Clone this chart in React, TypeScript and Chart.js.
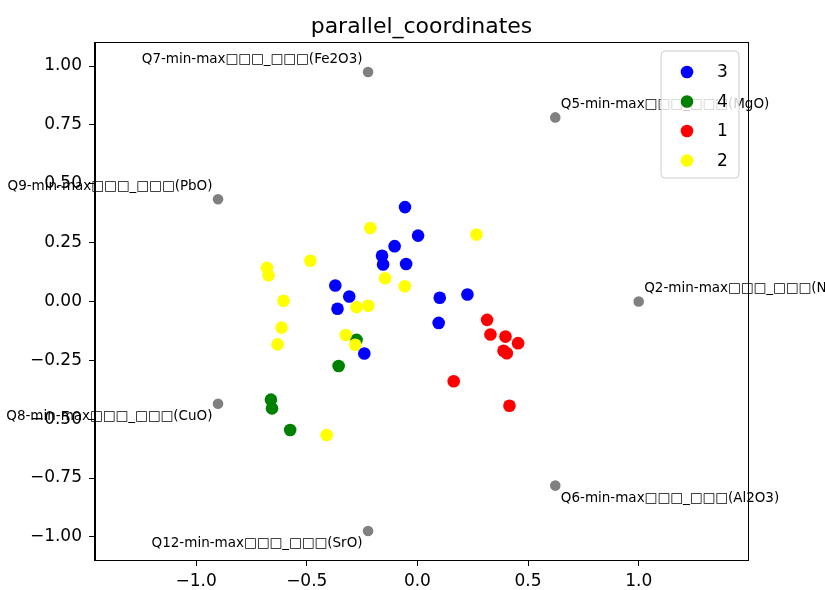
import React, { useEffect, useRef } from "react";
import { Chart, registerables } from "chart.js";

Chart.register(...registerables);

const TITLE = "parallel_coordinates";
const FONT = "'DejaVu Sans', 'Liberation Sans', sans-serif";

const classLabels = ["3", "4", "1", "2"];
const classColors = ["#0000ff", "#008000", "#ff0000", "#ffff00"];

const blueX = [-0.056, 0.003, -0.103, -0.160, -0.155, -0.051, -0.371, -0.308, -0.361, 0.101, 0.226, 0.096, -0.240];
const blueY = [0.401, 0.280, 0.235, 0.194, 0.157, 0.159, 0.068, 0.021, -0.031, 0.016, 0.030, -0.091, -0.221];

const greenX = [-0.275, -0.356, -0.662, -0.657, -0.575];
const greenY = [-0.163, -0.274, -0.417, -0.454, -0.546];

const redX = [0.315, 0.330, 0.398, 0.455, 0.389, 0.404, 0.164, 0.416];
const redY = [-0.078, -0.140, -0.149, -0.177, -0.209, -0.220, -0.339, -0.443];

const yellowX = [-0.213, 0.267, -0.484, -0.680, -0.673, -0.146, -0.057, -0.605, -0.275, -0.222, -0.614, -0.632, -0.324, -0.281, -0.410];
const yellowY = [0.312, 0.284, 0.173, 0.143, 0.111, 0.099, 0.065, 0.003, -0.024, -0.018, -0.111, -0.182, -0.142, -0.184, -0.567];

const anchorNames = [
  "Q2-min-max□□□_□□□(Na2O)",
  "Q5-min-max□□□_□□□(MgO)",
  "Q7-min-max□□□_□□□(Fe2O3)",
  "Q9-min-max□□□_□□□(PbO)",
  "Q8-min-max□□□_□□□(CuO)",
  "Q12-min-max□□□_□□□(SrO)",
  "Q6-min-max□□□_□□□(Al2O3)",
];
const anchorX = [1.0, 0.623, -0.223, -0.901, -0.901, -0.223, 0.623];
const anchorY = [0.0, 0.782, 0.975, 0.434, -0.434, -0.975, -0.782];

const xTicks = [-1.0, -0.5, 0.0, 0.5, 1.0];
const xTickLabels = ["−1.0", "−0.5", "0.0", "0.5", "1.0"];
const yTicks = [-1.0, -0.75, -0.5, -0.25, 0.0, 0.25, 0.5, 0.75, 1.0];
const yTickLabels = ["−1.00", "−0.75", "−0.50", "−0.25", "0.00", "0.25", "0.50", "0.75", "1.00"];

const toPoints = (xs: number[], ys: number[]) => xs.map((x, i) => ({ x, y: ys[i] }));

export default function App() {
  const ref = useRef<HTMLCanvasElement | null>(null);

  useEffect(() => {
    if (!ref.current) return;
    const seriesX = [blueX, greenX, redX, yellowX];
    const seriesY = [blueY, greenY, redY, yellowY];

    const datasets: any[] = seriesX.map((xs, i) => ({
      label: classLabels[i],
      data: toPoints(xs, seriesY[i]),
      backgroundColor: classColors[i],
      borderWidth: 0,
      pointRadius: 6.3,
      order: 10 - i,
    }));
    datasets.push({
      label: "anchors",
      data: toPoints(anchorX, anchorY),
      backgroundColor: "#808080",
      borderWidth: 0,
      pointRadius: 5.3,
      order: 1,
    });

    const framePlugin = {
      id: "frameAndLabels",
      afterDatasetsDraw(chart: any) {
        const { ctx, chartArea, scales } = chart;
        ctx.save();
        // title centred over the axes
        ctx.font = `22px ${FONT}`;
        ctx.fillStyle = "#000";
        ctx.textAlign = "center";
        ctx.textBaseline = "alphabetic";
        ctx.fillText(TITLE, (chartArea.left + chartArea.right) / 2, 33);
        // anchor labels
        ctx.font = `13.5px ${FONT}`;
        anchorNames.forEach((name, i) => {
          const ax = anchorX[i];
          const ay = anchorY[i];
          const dx = ax < 0 ? -0.025 : 0.025;
          const dy = ay < 0 ? -0.025 : 0.025;
          const px = scales.x.getPixelForValue(ax + dx);
          const py = scales.y.getPixelForValue(ay + dy);
          ctx.textAlign = ax < 0 ? "right" : "left";
          ctx.textBaseline = ay < 0 ? "top" : "bottom";
          ctx.fillText(name, px, py);
        });
        // frame
        ctx.strokeStyle = "#000";
        ctx.lineWidth = 1;
        ctx.strokeRect(
          Math.round(chartArea.left) - 0.5,
          Math.round(chartArea.top) - 0.5,
          Math.round(chartArea.right - chartArea.left) + 1,
          Math.round(chartArea.bottom - chartArea.top) + 1
        );
        ctx.restore();
      },
      afterDraw(chart: any) {
        const { ctx, chartArea } = chart;
        ctx.save();
        const w = 78;
        const h = 127;
        const left = chartArea.right - 9 - w;
        const top = chartArea.top + 8;
        const r = 4;
        ctx.beginPath();
        ctx.moveTo(left + r, top);
        ctx.lineTo(left + w - r, top);
        ctx.quadraticCurveTo(left + w, top, left + w, top + r);
        ctx.lineTo(left + w, top + h - r);
        ctx.quadraticCurveTo(left + w, top + h, left + w - r, top + h);
        ctx.lineTo(left + r, top + h);
        ctx.quadraticCurveTo(left, top + h, left, top + h - r);
        ctx.lineTo(left, top + r);
        ctx.quadraticCurveTo(left, top, left + r, top);
        ctx.closePath();
        ctx.fillStyle = "rgba(255,255,255,0.8)";
        ctx.fill();
        ctx.strokeStyle = "#cccccc";
        ctx.lineWidth = 1;
        ctx.stroke();
        ctx.font = `17px ${FONT}`;
        ctx.textAlign = "left";
        ctx.textBaseline = "middle";
        for (let i = 0; i < classLabels.length; i++) {
          const cy = top + 21 + i * 29.5;
          ctx.beginPath();
          ctx.arc(left + 26, cy, 6.3, 0, Math.PI * 2);
          ctx.fillStyle = chart.data.datasets[i].backgroundColor;
          ctx.fill();
          ctx.fillStyle = "#000";
          ctx.fillText(classLabels[i], left + 56, cy + 1);
        }
        ctx.restore();
      },
    };

    const chart = new Chart(ref.current, {
      type: "scatter",
      data: { datasets },
      plugins: [framePlugin],
      options: {
        responsive: false,
        devicePixelRatio: 1,
        animation: false,
        events: [],
        layout: { padding: { left: 0, right: 77, top: 43, bottom: 0 } },
        plugins: {
          legend: { display: false },
          tooltip: { enabled: false },
          title: { display: false },
        },
        scales: {
          x: {
            type: "linear",
            min: -1.457,
            max: 1.494,
            afterBuildTicks: (s: any) => {
              s.ticks = xTicks.map((v) => ({ value: v }));
            },
            afterFit: (s: any) => {
              s.height = 30;
            },
            ticks: {
              color: "#000",
              font: { family: FONT, size: 17 },
              padding: 5,
              maxRotation: 0,
              autoSkip: false,
              callback: (_v: any, i: number) => xTickLabels[i],
            },
            grid: { drawOnChartArea: false, drawTicks: true, tickLength: 6, tickColor: "#000" },
            border: { display: true, color: "#000" },
          },
          y: {
            type: "linear",
            min: -1.098,
            max: 1.098,
            afterBuildTicks: (s: any) => {
              s.ticks = yTicks.map((v) => ({ value: v }));
            },
            afterFit: (s: any) => {
              s.width = 95;
            },
            ticks: {
              color: "#000",
              font: { family: FONT, size: 17 },
              padding: 7,
              autoSkip: false,
              callback: (_v: any, i: number) => yTickLabels[i],
            },
            grid: { drawOnChartArea: false, drawTicks: true, tickLength: 6, tickColor: "#000" },
            border: { display: true, color: "#000" },
          },
        },
      } as any,
    });
    return () => chart.destroy();
  }, []);

  return (
    <div style={{ position: "fixed", left: 0, top: 0, width: 825, height: 590, background: "#fff" }}>
      <canvas ref={ref} width={825} height={590} style={{ display: "block" }} />
    </div>
  );
}
